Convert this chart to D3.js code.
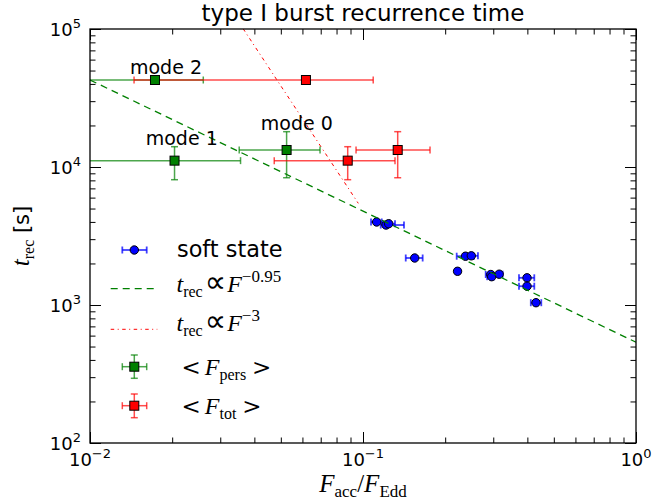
<!DOCTYPE html>
<html><head><meta charset="utf-8">
<script src="https://cdn.jsdelivr.net/npm/d3@7"></script>
<style>body{margin:0;background:#fff}</style>
</head><body>
<svg id="c" width="666" height="503"></svg>
<script>
// ---- data ----
const softF   = [0.1122, 0.1214, 0.1242, 0.1547, 0.2220, 0.2374, 0.2493, 0.2938, 0.2961, 0.3154, 0.3989, 0.3989, 0.4302];
const softT   = [3995, 3798, 3882, 2191, 1755, 2257, 2272, 1663, 1604, 1672, 1574, 1368, 1039];
const softFlo = [0.1070, 0.1161, 0.1180, 0.1434, 0.2180, 0.2204, 0.2364, 0.2815, 0.2850, 0.2969, 0.3727, 0.3727, 0.4118];
const softFhi = [0.1171, 0.1413, 0.1310, 0.1654, 0.2260, 0.2549, 0.2637, 0.3095, 0.3020, 0.3248, 0.4241, 0.4241, 0.4498];

const modes   = ["mode 0", "mode 1", "mode 2"];
const recT    = [13280, 11120, 42700];
const recTlo  = [8360, 8090, 42700];
const recThi  = [18030, 14030, 42700];
const persF   = [0.0525, 0.0204, 0.0173];
const persFlo = [0.0352, 0.0050, 0.0050];
const persFhi = [0.0696, 0.0356, 0.0260];
const totF    = [0.134, 0.0879, 0.0618];
const totFlo  = [0.0943, 0.0473, 0.0145];
const totFhi  = [0.176, 0.131, 0.109];

// power-law guide lines (end points)
const fitSlowF = [0.01, 1];      const fitSlowT = [42700, 537];     // t ~ F^-0.95
const fitSteepF = [0.0345, 0.0961]; const fitSteepT = [117900, 5454]; // t ~ F^-3

const xMajor = [0.01, 0.1, 1];
const yMajor = [100, 1000, 10000, 100000];
const xTickExp = ["-2", "-1", "0"];
const yTickExp = ["2", "3", "4", "5"];

// ---- layout ----
const L = 90, R = 636, T = 29, B = 443;
const svg = d3.select('#c');
const x = d3.scaleLog().domain([0.01, 1]).range([L, R]);
const y = d3.scaleLog().domain([100, 1e5]).range([B, T]);

const minorOf = (majors) => {
  const out = [];
  for (let i = 0; i < majors.length - 1; i++) for (let k = 2; k <= 9; k++) out.push(majors[i] * k);
  return out;
};
const xMinor = minorOf(xMajor), yMinor = minorOf(yMajor);

svg.append('defs').append('clipPath').attr('id', 'clip')
  .append('rect').attr('x', L).attr('y', T).attr('width', R - L).attr('height', B - T);

// ticks via d3 axes (inward)
function axisTicks(axisFn, scale, vals, size, tx, ty) {
  const g = svg.append('g').attr('transform', `translate(${tx},${ty})`)
    .call(axisFn(scale).tickValues(vals).tickSizeInner(-size).tickSizeOuter(0).tickFormat(''));
  g.select('.domain').remove();
  g.selectAll('line').attr('stroke', '#000').attr('stroke-width', 1);
}
axisTicks(d3.axisBottom, x, xMajor, 11, 0, B);
axisTicks(d3.axisBottom, x, xMinor, 5.5, 0, B);
axisTicks(d3.axisTop, x, xMajor, 11, 0, T);
axisTicks(d3.axisTop, x, xMinor, 5.5, 0, T);
axisTicks(d3.axisLeft, y, yMajor, 11, L, 0);
axisTicks(d3.axisLeft, y, yMinor, 5.5, L, 0);
axisTicks(d3.axisRight, y, yMajor, 11, R, 0);
axisTicks(d3.axisRight, y, yMinor, 5.5, R, 0);

// tick labels
const sans = "'DejaVu Sans', sans-serif";
xMajor.forEach((v, i) => {
  const t = svg.append('text').attr('x', x(v)).attr('y', B + 23).attr('text-anchor', 'middle')
    .attr('font-family', sans).attr('font-size', 18);
  t.append('tspan').text('10');
  t.append('tspan').attr('dy', -8).attr('font-size', 13).text(xTickExp[i].replace('-', '\u2212'));
});
yMajor.forEach((v, i) => {
  const t = svg.append('text').attr('x', 81).attr('y', y(v) + 7).attr('text-anchor', 'end')
    .attr('font-family', sans).attr('font-size', 18);
  t.append('tspan').text('10');
  t.append('tspan').attr('dy', -8).attr('font-size', 13).text(yTickExp[i]);
});

// math-ish text helper
const serif = "'Liberation Serif', 'DejaVu Serif', serif";
function mtext(parent, px, py, parts, anchor, size) {
  const t = parent.append('text').attr('x', px).attr('y', py).attr('text-anchor', anchor || 'start')
    .attr('font-family', serif).attr('font-size', size);
  let cur = 0;
  parts.forEach(p => {
    const s = t.append('tspan').text(p.t);
    const target = p.d || 0;
    if (target !== cur) { s.attr('dy', target - cur); cur = target; }
    if (p.s) s.attr('font-size', p.s);
    if (p.i) s.attr('font-style', 'italic');
    if (p.f) s.attr('font-family', p.f);
    if (p.dx) s.attr('dx', p.dx);
  });
  return t;
}

// title
svg.append('text').attr('x', (L + R) / 2).attr('y', 21).attr('text-anchor', 'middle')
  .attr('font-family', sans).attr('font-size', 23).text('type I burst recurrence time');

// axis labels
mtext(svg, (L + R) / 2, 492, [
  {t: 'F', i: 1}, {t: 'acc', s: 17, d: 5}, {t: '/', d: 0, s: 25}, {t: 'F', i: 1}, {t: 'Edd', s: 17, d: 5}
], 'middle', 25);
const yl = svg.append('g').attr('transform', `translate(29,${(T + B) / 2}) rotate(-90)`);
mtext(yl, 0, 0, [
  {t: 't', i: 1}, {t: 'rec', s: 16, d: 5}, {t: ' [s]', d: 0, f: sans, s: 21}
], 'middle', 25);

const plot = svg.append('g').attr('clip-path', 'url(#clip)');

// colours
const gBar = 'rgba(0,128,0,0.7)', rBar = 'rgba(255,0,0,0.7)', bBar = 'rgba(0,0,255,0.75)';

function hbar(g, x0, x1, yy, col, w, cap) {
  g.append('line').attr('x1', x0).attr('x2', x1).attr('y1', yy).attr('y2', yy).attr('stroke', col).attr('stroke-width', w);
  [x0, x1].forEach(xx => g.append('line').attr('x1', xx).attr('x2', xx).attr('y1', yy - cap).attr('y2', yy + cap)
    .attr('stroke', col).attr('stroke-width', w));
}
function vbar(g, xx, y0, y1, col, w, cap) {
  if (Math.abs(y0 - y1) < 0.5) return;
  g.append('line').attr('x1', xx).attr('x2', xx).attr('y1', y0).attr('y2', y1).attr('stroke', col).attr('stroke-width', w);
  [y0, y1].forEach(yy => g.append('line').attr('x1', xx - cap).attr('x2', xx + cap).attr('y1', yy).attr('y2', yy)
    .attr('stroke', col).attr('stroke-width', w));
}

// soft state error bars + points
softF.forEach((f, i) => hbar(plot, x(softFlo[i]), x(softFhi[i]), y(softT[i]), bBar, 1.8, 3.5));
softF.forEach((f, i) => plot.append('circle').attr('cx', x(f)).attr('cy', y(softT[i])).attr('r', 4.2)
  .attr('fill', '#0000ff').attr('stroke', '#000').attr('stroke-width', 1));

// guide lines
const line = d3.line().x(d => x(d[0])).y(d => y(d[1]));
const steepDash = '3.5,3.5,1,3.5';
plot.append('path').datum(fitSlowF.map((f, i) => [f, fitSlowT[i]])).attr('d', line)
  .attr('fill', 'none').attr('stroke', '#008000').attr('stroke-width', 1.3).attr('stroke-dasharray', '7,5');
plot.append('path').datum(fitSteepF.map((f, i) => [f, fitSteepT[i]])).attr('d', line)
  .attr('fill', 'none').attr('stroke', '#ff0000').attr('stroke-width', 1).attr('stroke-dasharray', steepDash);

// mode error bars
modes.forEach((m, i) => {
  hbar(plot, x(persFlo[i]), x(persFhi[i]), y(recT[i]), gBar, 1.5, 3.5);
  vbar(plot, x(persF[i]), y(recTlo[i]), y(recThi[i]), gBar, 1.5, 3.5);
});
modes.forEach((m, i) => {
  hbar(plot, x(totFlo[i]), x(totFhi[i]), y(recT[i]), rBar, 1.5, 3.5);
  vbar(plot, x(totF[i]), y(recTlo[i]), y(recThi[i]), rBar, 1.5, 3.5);
});
const sq = 9;
modes.forEach((m, i) => {
  plot.append('rect').attr('x', x(persF[i]) - sq / 2).attr('y', y(recT[i]) - sq / 2).attr('width', sq).attr('height', sq)
    .attr('fill', '#008000').attr('stroke', '#000').attr('stroke-width', 1);
  plot.append('rect').attr('x', x(totF[i]) - sq / 2).attr('y', y(recT[i]) - sq / 2).attr('width', sq).attr('height', sq)
    .attr('fill', '#ff0000').attr('stroke', '#000').attr('stroke-width', 1);
});

// mode labels (annotation positions)
const modeLabelPos = {"mode 0": [0.0572, 18540], "mode 1": [0.02168, 14430], "mode 2": [0.01898, 47200]};
modes.forEach(m => svg.append('text').attr('x', x(modeLabelPos[m][0])).attr('y', y(modeLabelPos[m][1]))
  .attr('text-anchor', 'middle').attr('font-family', sans).attr('font-size', 19).text(m));

// spines
svg.append('rect').attr('x', L).attr('y', T).attr('width', R - L).attr('height', B - T)
  .attr('fill', 'none').attr('stroke', '#000').attr('stroke-width', 1.3);

// legend
const lg = svg.append('g');
const mx = 134.3;
const sym = "'DejaVu Serif', serif";
hbar(lg, 122.3, 146.7, 250, bBar, 1.8, 3.5);
lg.append('circle').attr('cx', mx).attr('cy', 250).attr('r', 4.2).attr('fill', '#0000ff').attr('stroke', '#000');
lg.append('text').attr('x', 177).attr('y', 257).attr('font-family', sans).attr('font-size', 22.4).text('soft state');

lg.append('line').attr('x1', 110.7).attr('x2', 157.3).attr('y1', 288.7).attr('y2', 288.7)
  .attr('stroke', '#008000').attr('stroke-width', 1.3).attr('stroke-dasharray', '7,5');
mtext(lg, 176.5, 292, [
  {t: 't', i: 1}, {t: 'rec', s: 16, d: 5}, {t: '\u221D', d: 0, f: sans, s: 30, dx: 2}, {t: 'F', i: 1, dx: 1},
  {t: '\u22120.95', s: 17, d: -10}
], 'start', 24);

lg.append('line').attr('x1', 110.7).attr('x2', 157.3).attr('y1', 329.3).attr('y2', 329.3)
  .attr('stroke', '#ff0000').attr('stroke-width', 1).attr('stroke-dasharray', steepDash);
mtext(lg, 176.5, 331, [
  {t: 't', i: 1}, {t: 'rec', s: 16, d: 5}, {t: '\u221D', d: 0, f: sans, s: 30, dx: 2}, {t: 'F', i: 1, dx: 1},
  {t: '\u22123', s: 17, d: -10}
], 'start', 24);

hbar(lg, 122.3, 146.7, 366.7, gBar, 1.5, 3.5);
vbar(lg, mx, 355, 378.3, gBar, 1.5, 3.5);
lg.append('rect').attr('x', mx - sq / 2).attr('y', 366.7 - sq / 2).attr('width', sq).attr('height', sq)
  .attr('fill', '#008000').attr('stroke', '#000');
mtext(lg, 181.5, 374.5, [
  {t: '<', f: sym, s: 23}, {t: 'F', i: 1, dx: 4}, {t: 'pers', s: 16, d: 5}, {t: '>', d: 0, f: sym, s: 23, dx: 6}
], 'start', 24);

hbar(lg, 122.3, 146.7, 405.7, rBar, 1.5, 3.5);
vbar(lg, mx, 394, 417.7, rBar, 1.5, 3.5);
lg.append('rect').attr('x', mx - sq / 2).attr('y', 405.7 - sq / 2).attr('width', sq).attr('height', sq)
  .attr('fill', '#ff0000').attr('stroke', '#000');
mtext(lg, 181.5, 413.5, [
  {t: '<', f: sym, s: 23}, {t: 'F', i: 1, dx: 4}, {t: 'tot', s: 16, d: 5}, {t: '>', d: 0, f: sym, s: 23, dx: 6}
], 'start', 24);
</script>
</body></html>
